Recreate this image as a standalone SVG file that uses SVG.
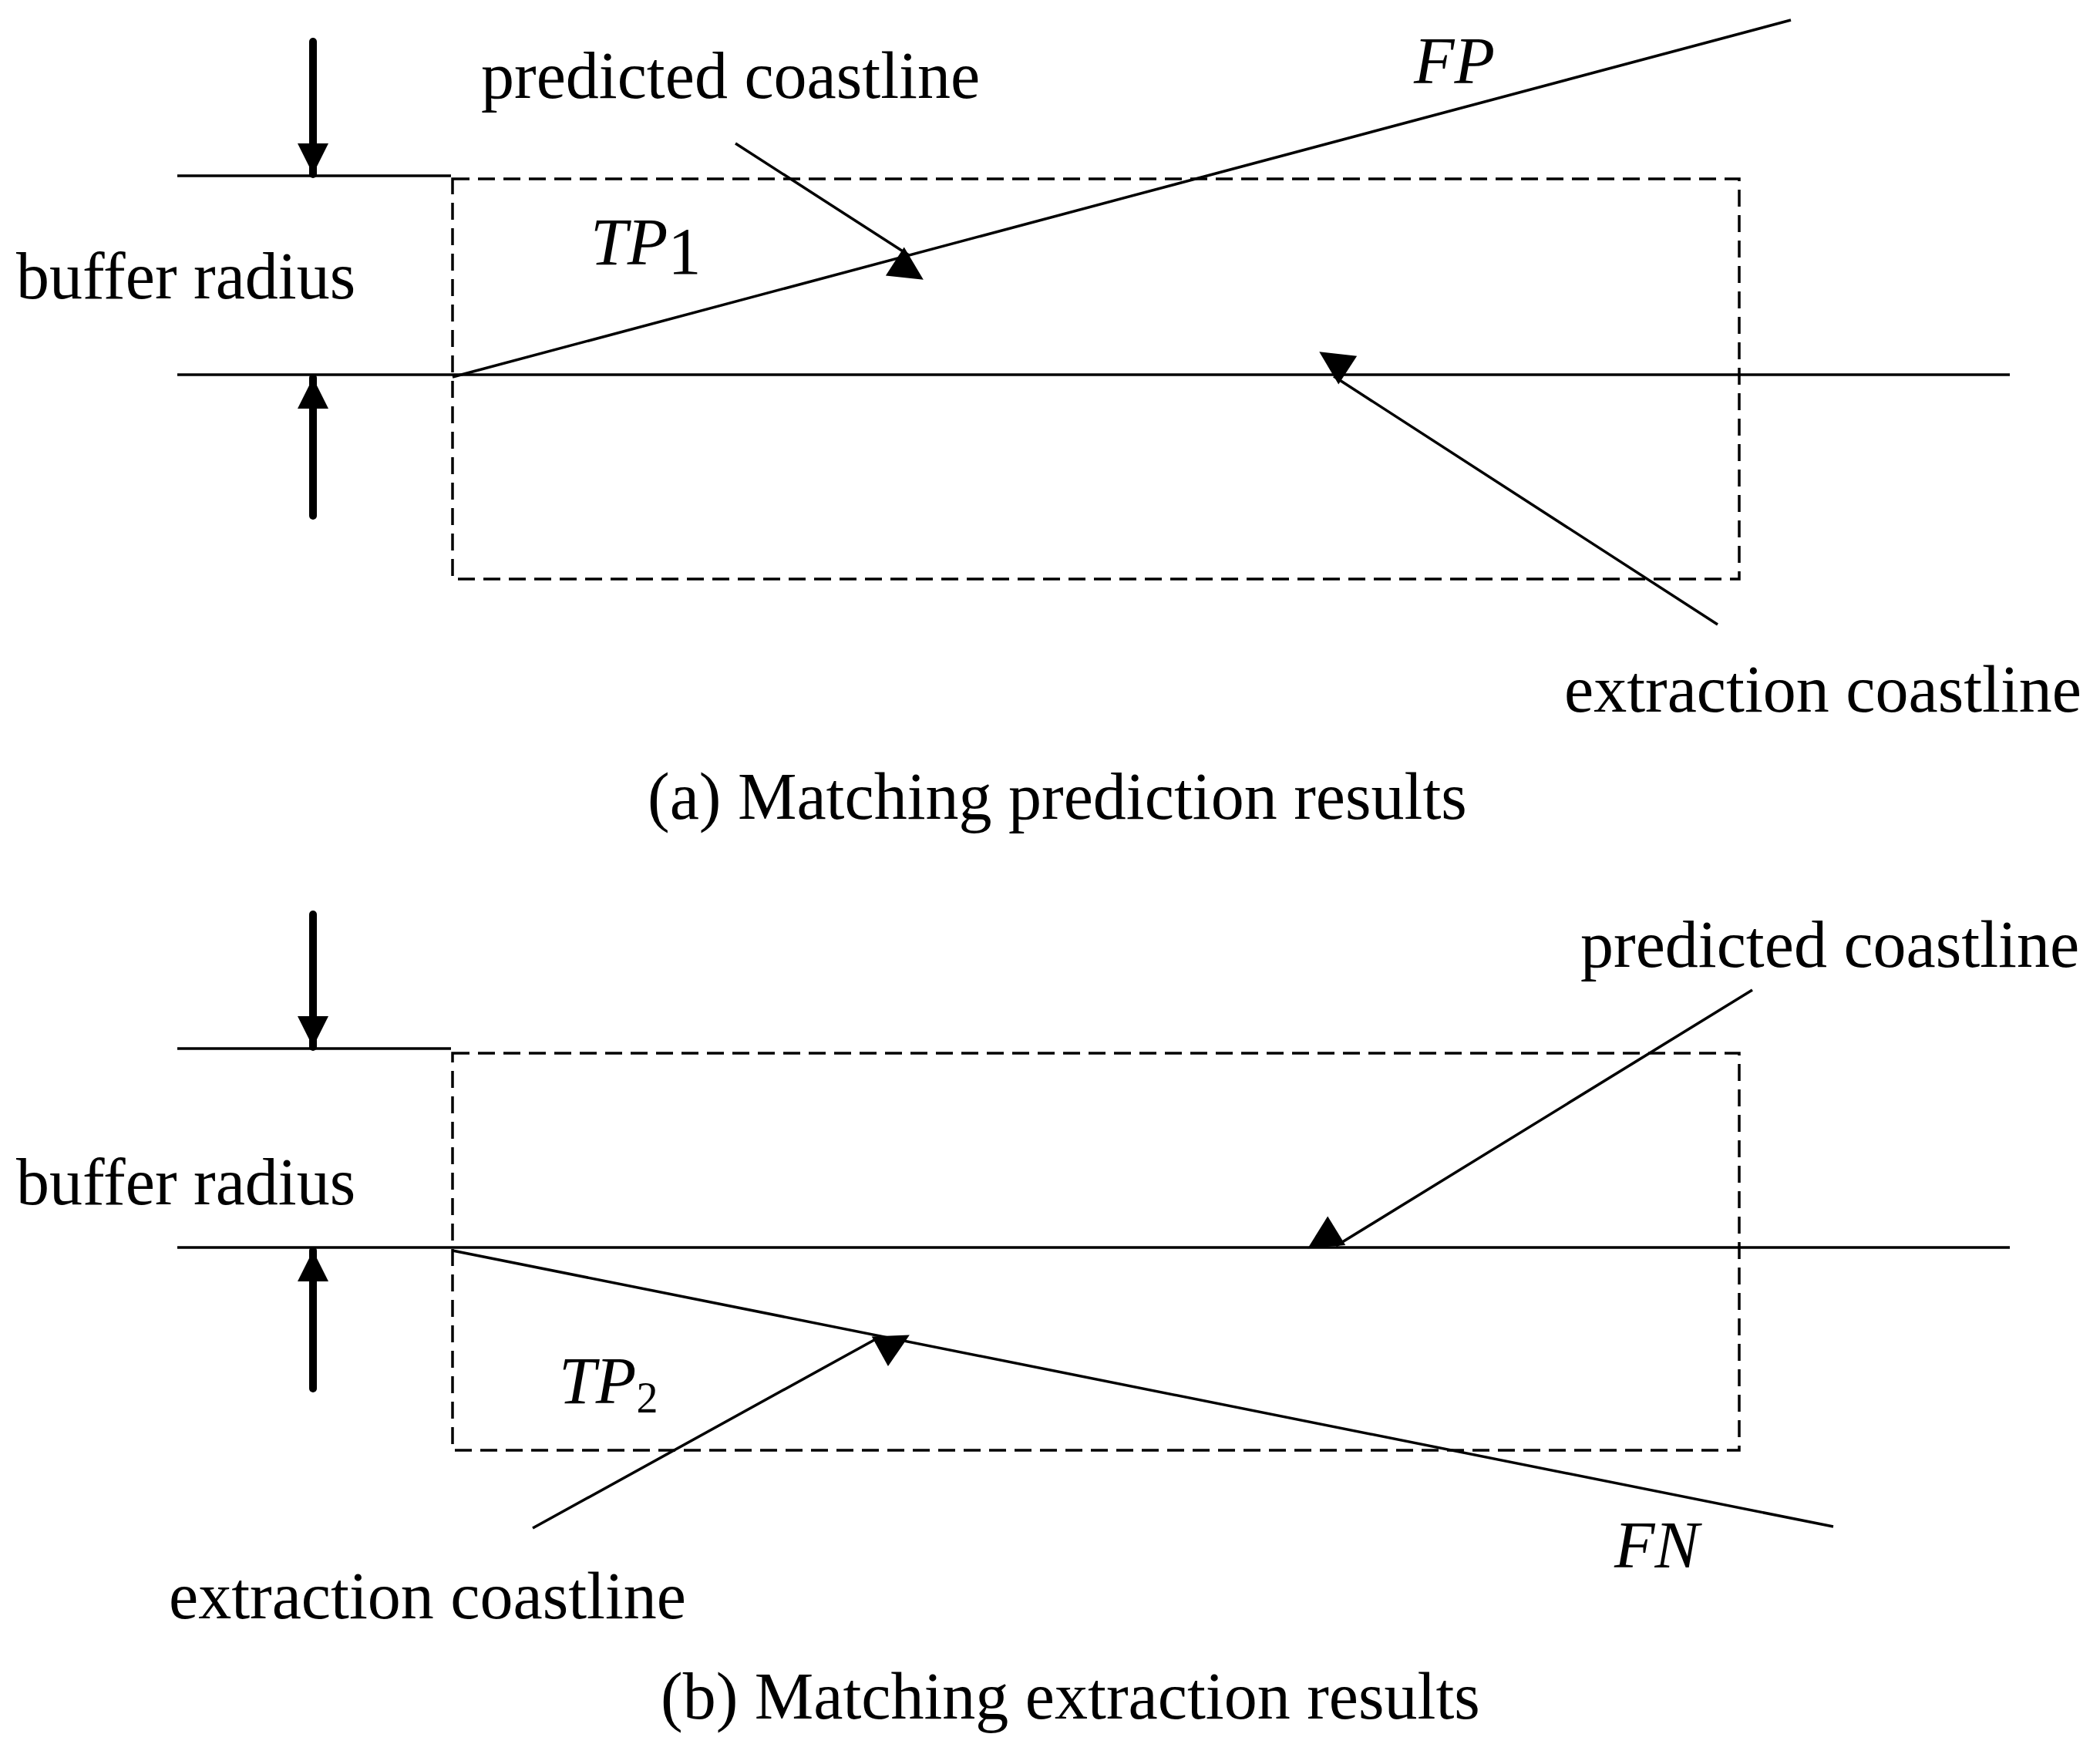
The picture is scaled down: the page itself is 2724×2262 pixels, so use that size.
<svg xmlns="http://www.w3.org/2000/svg" width="2724" height="2262" viewBox="0 0 2724 2262">
<style>
.t{font-family:"Liberation Serif","Times New Roman",serif;font-size:86px;fill:#000}
.i{font-style:italic}
.ln{stroke:#000;stroke-width:3.5;fill:none}
.dash{stroke:#000;stroke-width:3.5;fill:none;stroke-dasharray:22 11}
.big{stroke:#000;stroke-width:10;stroke-linecap:round;fill:none}
</style>
<defs>
<marker id="ah" viewBox="0 0 10 10" refX="10" refY="5" markerWidth="11" markerHeight="11" markerUnits="userSpaceOnUse" orient="auto" style="overflow:visible">
<path d="M0,0 L10,5 L0,10 z" fill="#000" transform="scale(4)"/>
</marker>
<marker id="bh" viewBox="0 0 10 10" refX="10" refY="5" markerWidth="40" markerHeight="40" markerUnits="userSpaceOnUse" orient="auto">
<path d="M0,0 L10,5 L0,10 z" fill="#000"/>
</marker>
</defs>
<rect width="2724" height="2262" fill="#fff"/>
<g id="panelA">
<rect class="dash" x="587" y="232" width="1669" height="519"/>
<line class="ln" x1="230" y1="228" x2="585" y2="228"/>
<line class="ln" x1="230" y1="486" x2="2607" y2="486"/>
<line class="ln" x1="587" y1="489" x2="2323" y2="26"/>
</g>
<g id="panelB">
<rect class="dash" x="587" y="1366" width="1669" height="515"/>
<line class="ln" x1="230" y1="1360" x2="585" y2="1360"/>
<line class="ln" x1="230" y1="1618" x2="2607" y2="1618"/>
<line class="ln" x1="587" y1="1622" x2="2378" y2="1980"/>
</g>
<g id="connectors">
<line class="big" x1="406" y1="54" x2="406" y2="226" marker-end="url(#bh)"/>
<line class="big" x1="406" y1="669" x2="406" y2="490" marker-end="url(#bh)"/>
<line class="big" x1="406" y1="1186" x2="406" y2="1358" marker-end="url(#bh)"/>
<line class="big" x1="406" y1="1801" x2="406" y2="1622" marker-end="url(#bh)"/>
<line class="ln" x1="954" y1="186" x2="1179" y2="331" marker-end="url(#ah)"/>
<line class="ln" x1="2228" y1="810" x2="1730" y2="488" marker-end="url(#ah)"/>
<line class="ln" x1="2273" y1="1284" x2="1733" y2="1616" marker-end="url(#ah)"/>
<line class="ln" x1="691" y1="1982" x2="1143" y2="1733" marker-end="url(#ah)"/>
</g>
<g id="labels">
<text class="t" x="624" y="127">predicted coastline</text>
<text class="t" x="21" y="387">buffer radius</text>
<text class="t i" x="766" y="343">TP<tspan class="t" font-style="normal" font-size="56" dy="12">1</tspan></text>
<text class="t i" x="1834" y="108">FP</text>
<text class="t" x="2029" y="923">extraction coastline</text>
<text class="t" x="840" y="1062">(a) Matching prediction results</text>
<text class="t" x="2050" y="1254">predicted coastline</text>
<text class="t" x="21" y="1562">buffer radius</text>
<text class="t i" x="725" y="1820">TP<tspan font-style="normal" font-size="56" dy="12">2</tspan></text>
<text class="t i" x="2094" y="2033">FN</text>
<text class="t" x="219" y="2099">extraction coastline</text>
<text class="t" x="857" y="2229">(b) Matching extraction results</text>
</g>
</svg>
